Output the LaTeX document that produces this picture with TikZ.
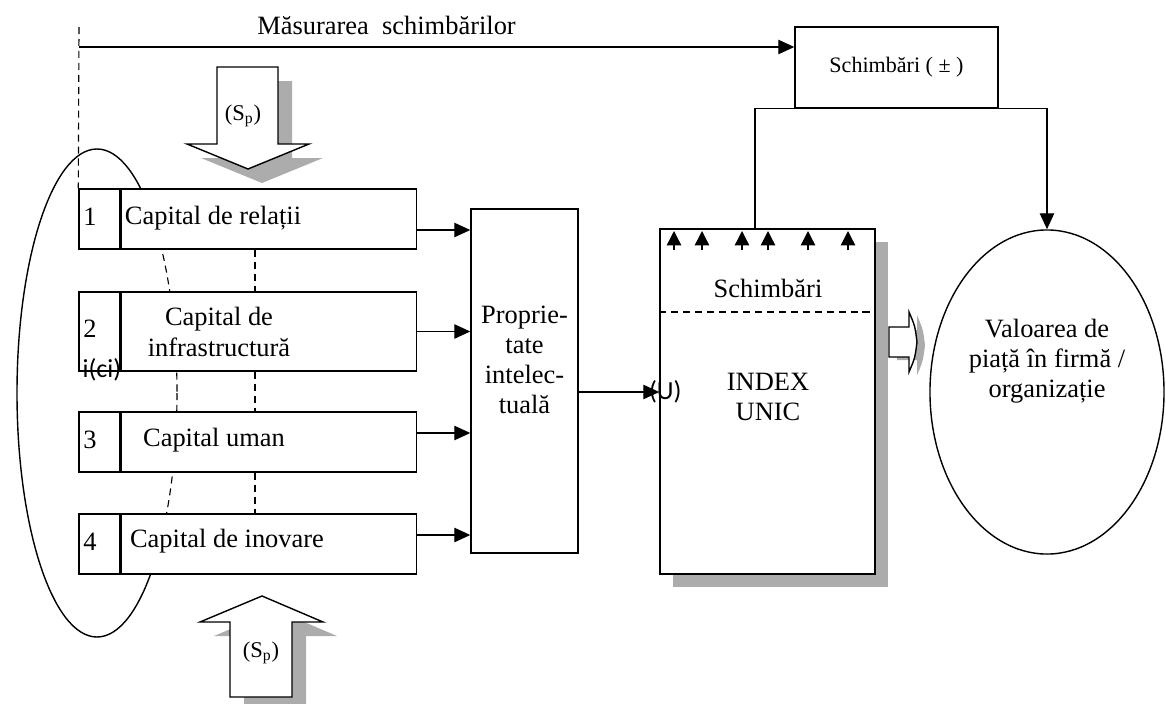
\documentclass[tikz,border=0pt]{standalone}
\usepackage{fontspec}
\setmainfont{Liberation Serif}
\newfontfamily\lblfont{Carlito}
\usepackage{tikz}
\usetikzlibrary{arrows.meta, positioning, shapes.geometric, shadows}
\definecolor{shadowgray}{RGB}{172,172,172}

\begin{document}
\begin{tikzpicture}[x=0.025cm, y=-0.025cm, line width=1pt,
    font=\fontsize{18.8}{21.5}\selectfont,
    arr/.style={-{Triangle[length=0.4cm, width=0.36cm]}},
    tick/.style={-{Triangle[length=0.36cm, width=0.36cm]}},
    dline/.style={dash pattern=on 5pt off 3.5pt, line width=0.8pt},
    box/.style={draw, fill=white, inner sep=0pt},
    numbox/.style={box, minimum width=1.025cm, text width=0.8cm,
                   align=left, inner xsep=0.1cm},
    capbox/.style={box, minimum width=7.375cm},
    fat/.style={draw, fill=white, drop shadow={shadow xshift=0.35cm,
                shadow yshift=-0.35cm, fill=shadowgray, opacity=1}},
    lbl/.style={font=\lblfont\fontsize{18.5}{20}\selectfont, inner sep=0pt}]
  \useasboundingbox (0,0) rectangle (1166,704);

  % grouping of the four capitals
  \draw (97,393) ellipse (80 and 244);
  \begin{scope}
    \clip (79,249) rectangle (415,292) (79,371) rectangle (415,412)
          (79,472) rectangle (415,514);
    \fill[white] (79,249) rectangle (415,514);
    \draw[dline] (97,393) ellipse (80 and 244);
  \end{scope}

  \node[numbox, minimum height=1.5cm] (n1) at (99.5,219) {1\strut};
  \node[capbox, minimum height=1.5cm, right=0pt of n1] (c1) {};
  \node[numbox, minimum height=1.975cm] (n2) at (99.5,331.5) {2\strut};
  \node[capbox, minimum height=1.975cm, right=0pt of n2] (c2) {};
  \node[numbox, minimum height=1.5cm] (n3) at (99.5,442) {3\strut};
  \node[capbox, minimum height=1.5cm, right=0pt of n3] (c3) {};
  \node[numbox, minimum height=1.5cm] (n4) at (99.5,544) {4\strut};
  \node[capbox, minimum height=1.5cm, right=0pt of n4] (c4) {};
  \node (t1) at (213,218) {Capital de relații};
  \node[align=center] (t2) at (219,332) {Capital de\\infrastructură};
  \node (t3) at (214,440) {Capital uman};
  \node (t4) at (227,541) {Capital de inovare};

  \coordinate (dv) at (255,0);
  \foreach \a/\b in {c1/c2, c2/c3, c3/c4}
    \draw[dline] (\a.south -| dv) -- (\b.north -| dv);

  % (S_p) arrows
  \draw[fat] (217,67) -- (278,67) -- (278,144) -- (309,144) -- (248,169)
    -- (187,144) -- (217,144) -- cycle;
  \node[font=\fontsize{16}{18}\selectfont] (spd) at (243,116) {(S\textsubscript{p})};
  \draw[fat] (230,697) -- (230,622) -- (200,622) -- (262,596) -- (323,622)
    -- (292,622) -- (292,697) -- cycle;
  \node[font=\fontsize{16}{18}\selectfont] (spu) at (261,653) {(S\textsubscript{p})};

  % intellectual property
  \node[box, minimum width=2.675cm, minimum height=8.6cm] (pi) at (524.5,381) {};
  \node[align=center] (pit) at (524.5,360) {Proprie-\\tate\\intelec-\\tuală};
  \draw[arr] ([yshift=-0.275cm]c1.east) -- ([yshift=-0.275cm]c1.east -| pi.west);
  \draw[arr] (c2.east) -- (c2.east -| pi.west);
  \draw[arr] ([yshift=0.225cm]c3.east) -- ([yshift=0.225cm]c3.east -| pi.west);
  \draw[arr] ([yshift=0.225cm]c4.east) -- ([yshift=0.225cm]c4.east -| pi.west);

  % single index
  \node[box, minimum width=5.375cm, minimum height=8.625cm,
        drop shadow={shadow xshift=0.325cm, shadow yshift=-0.325cm,
                     fill=shadowgray, opacity=1}] (idx) at (767.5,401.5) {};
  \coordinate (sep) at (0,312);
  \draw[dline] (idx.west |- sep) -- (idx.east |- sep);
  \node (idxs) at (768,288) {Schimbări};
  \node[align=center] (idxt) at (768,397) {INDEX\\UNIC};
  \foreach \x in {674,702,742,768,808,848}
    \draw[tick] (\x,250) -- (\x,231);
  \draw[arr] ([yshift=-0.275cm]pi.east) -- ([yshift=-0.275cm]pi.east -| idx.west)
    node[lbl, xshift=0.15cm] {(U)};

  % changes and market value
  \node[box, minimum width=5.075cm, minimum height=2.025cm] (chg) at (896.5,67.5)
    {\fontsize{15.7}{18}\selectfont Schimbări ( ± )};
  \node[draw, ellipse, minimum width=5.85cm, minimum height=8.1cm,
        inner sep=0pt] (val) at (1047,392) {};
  \node[align=center] (valt) at (1047,361) {Valoarea de\\piață în firmă /\\organizație};
  \draw[arr] ([xshift=-0.3125cm]idx.north) |- (chg.south) -| (val.north);
  \draw[draw, fill=white, drop shadow={shadow xshift=0.2cm, shadow yshift=-0.08cm,
        fill=shadowgray, opacity=1}]
    (889,327) -- (909,327) -- (909,312) .. controls (915,326) .. (917,342)
    .. controls (915,358) .. (909,372) -- (909,357) -- (889,357) -- cycle;

  \coordinate (mtop) at (79,27);
  \coordinate (mstart) at (79,47);
  \draw[dline] (mtop) -- (n1.north west);
  \draw[arr] (mstart) -- (mstart -| chg.west)
    node[pos=0.43, above=0.28cm, inner sep=0pt] {Măsurarea\ \ schimbărilor};

  \node[lbl] (ici) at (102,370) {i(ci)};
\end{tikzpicture}
\end{document}
